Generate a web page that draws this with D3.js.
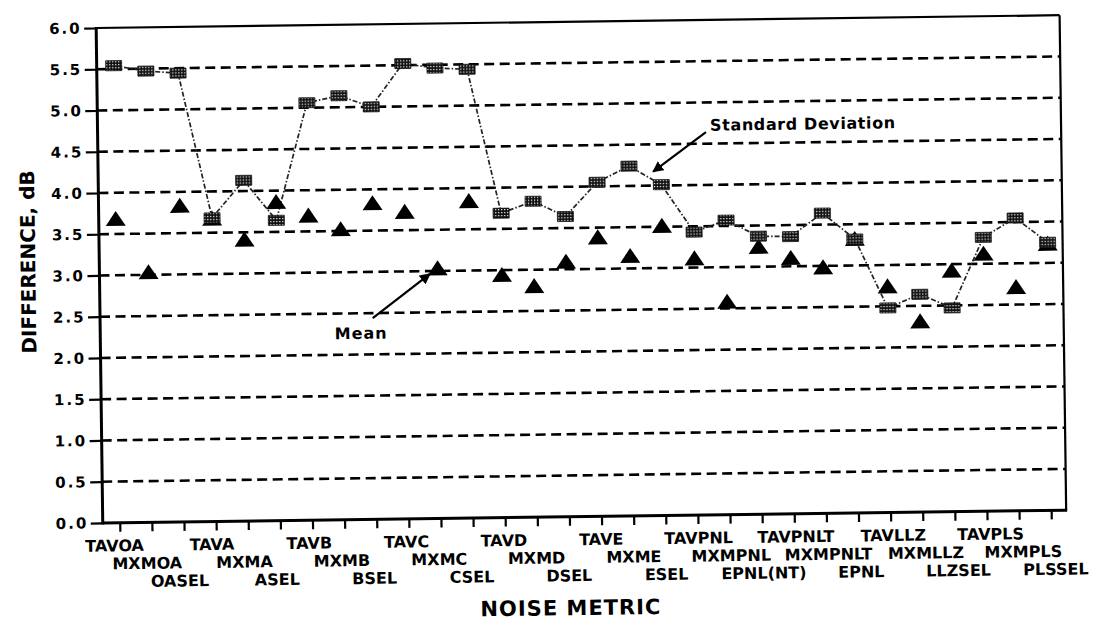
<!DOCTYPE html>
<html>
<head>
<meta charset="utf-8">
<script src="https://cdn.jsdelivr.net/npm/d3@7"></script>
<style>
  html, body { margin: 0; padding: 0; background: #fff; }
  svg { display: block; }
  text { font-family: "DejaVu Sans", "Liberation Sans", Arial, sans-serif; font-weight: bold; fill: #000; }
</style>
</head>
<body>
<svg id="chart" width="1099" height="625"></svg>
<script>
// ---------- data ----------
const categories = ["TAVOA","MXMOA","OASEL","TAVA","MXMA","ASEL","TAVB","MXMB","BSEL",
  "TAVC","MXMC","CSEL","TAVD","MXMD","DSEL","TAVE","MXME","ESEL",
  "TAVPNL","MXMPNL","EPNL(NT)","TAVPNLT","MXMPNLT","EPNL",
  "TAVLLZ","MXMLLZ","LLZSEL","TAVPLS","MXMPLS","PLSSEL"];
const stdDev = [5.54,5.47,5.44,3.68,4.13,3.64,5.06,5.14,5.00,
  5.52,5.46,5.44,3.69,3.83,3.64,4.05,4.24,4.01,
  3.43,3.57,3.37,3.36,3.64,3.32,
  2.48,2.64,2.47,3.32,3.55,3.25];
const meanVals = [3.67,3.02,3.82,3.66,3.40,3.85,3.68,3.51,3.82,
  3.71,3.02,3.83,2.93,2.79,3.08,3.37,3.14,3.50,
  3.10,2.57,3.23,3.09,2.97,3.31,
  2.73,2.30,2.91,3.11,2.70,3.22];
const yTicks = [0,0.5,1,1.5,2,2.5,3,3.5,4,4.5,5,5.5,6];
const gridTicks = [0.5,1,1.5,2,2.5,3,3.5,4,4.5,5,5.5];
const xTitle = "NOISE METRIC";
const yTitle = "DIFFERENCE, dB";
const stdLabel = "Standard Deviation";
const meanLabel = "Mean";

// ---------- layout ----------
const L = 99.5, R = 1063, T = 21.6, B = 516.6;
const svg = d3.select("#chart");
const root = svg.append("g").attr("transform", "rotate(-0.76, 580, 275)");

const x = d3.scalePoint().domain(categories).range([116.5, 1048]);
const xi = d3.scaleLinear().domain([0, categories.length - 1]).range(x.range());
const xLab = d3.scalePoint().domain(categories).range([110.5, 1051.5]);
const y = d3.scaleLinear().domain([0, 6]).range([B, T]);

// pattern for std-dev markers
const defs = svg.append("defs");
const pat = defs.append("pattern").attr("id", "hatch")
  .attr("patternUnits", "userSpaceOnUse").attr("width", 3).attr("height", 3);
pat.append("rect").attr("width", 3).attr("height", 3).attr("fill", "#111");
pat.append("rect").attr("x", 1).attr("y", 1).attr("width", 1.2).attr("height", 1.2).attr("fill", "#fff");
defs.append("marker").attr("id", "arrow").attr("viewBox", "0 0 10 10")
  .attr("refX", 9).attr("refY", 5).attr("markerWidth", 5).attr("markerHeight", 5)
  .attr("orient", "auto").attr("markerUnits", "strokeWidth")
  .append("path").attr("d", "M0,0 L10,5 L0,10 z").attr("fill", "#000");

// gridlines
root.append("g").selectAll("line").data(gridTicks).join("line")
  .attr("x1", L).attr("x2", R).attr("y1", d => y(d)).attr("y2", d => y(d))
  .attr("stroke", "#000").attr("stroke-width", 2.6).attr("stroke-dasharray", "10,5.5");

// frame
root.append("line").attr("x1", L).attr("x2", R).attr("y1", T).attr("y2", T)
  .attr("stroke", "#000").attr("stroke-width", 2.2);
root.append("line").attr("x1", R).attr("x2", R).attr("y1", T).attr("y2", B)
  .attr("stroke", "#000").attr("stroke-width", 2.2);

// y axis
const yAxis = root.append("g").attr("transform", `translate(${L},0)`)
  .call(d3.axisLeft(y).tickValues(yTicks).tickSize(12).tickPadding(2.5).tickFormat(d3.format(".1f")));
yAxis.select(".domain").remove();
yAxis.selectAll(".tick line").attr("stroke", "#000").attr("stroke-width", 2.2);
yAxis.selectAll(".tick text").attr("font-size", 15).attr("letter-spacing", 2)
  .style("font-family", "DejaVu Sans").style("font-weight", "bold").attr("fill", "#000");

// x axis
const xAxis = root.append("g").attr("transform", `translate(0,${B})`)
  .call(d3.axisBottom(x).tickSize(9).tickSizeOuter(0));
xAxis.select(".domain").remove();
xAxis.selectAll(".tick line").attr("stroke", "#000").attr("stroke-width", 2.2);
xAxis.selectAll(".tick text")
  .attr("x", d => xLab(d) - x(d))
  .attr("y", d => 28.5 + (categories.indexOf(d) % 3) * 18)
  .attr("dy", 0)
  .attr("font-size", 16)
  .style("font-family", "DejaVu Sans").style("font-weight", "bold").attr("fill", "#000");

// axis lines (thick)
root.append("line").attr("x1", L).attr("x2", L).attr("y1", T - 1).attr("y2", B + 1.5)
  .attr("stroke", "#000").attr("stroke-width", 3);
root.append("line").attr("x1", L).attr("x2", R + 1).attr("y1", B).attr("y2", B)
  .attr("stroke", "#000").attr("stroke-width", 3);

// std dev line
root.append("path").datum(stdDev)
  .attr("d", d3.line().x((d, i) => x(categories[i])).y(d => y(d)))
  .attr("fill", "none").attr("stroke", "#222").attr("stroke-width", 1.7)
  .attr("stroke-dasharray", "5,2,1.5,2");

// mean triangles
root.append("g").selectAll("path").data(meanVals).join("path")
  .attr("d", (d, i) => {
    const cx = x(categories[i]), cy = y(d);
    return `M${cx},${cy - 9} L${cx + 10},${cy + 6} L${cx - 10},${cy + 6} Z`;
  })
  .attr("fill", "#000");

// std dev markers
root.append("g").selectAll("rect").data(stdDev).join("rect")
  .attr("x", (d, i) => x(categories[i]) - 8)
  .attr("y", d => y(d) - 5)
  .attr("width", 16).attr("height", 10)
  .attr("fill", "url(#hatch)").attr("stroke", "#111").attr("stroke-width", 0.8);

// annotations
root.append("text").attr("x", xi(18.54)).attr("y", y(4.657))
  .attr("font-size", 16).attr("letter-spacing", 0.6).text(stdLabel);
root.append("line")
  .attr("x1", xi(18.41)).attr("y1", y(4.64)).attr("x2", xi(16.75)).attr("y2", y(4.17))
  .attr("stroke", "#000").attr("stroke-width", 2.2).attr("marker-end", "url(#arrow)");
root.append("text").attr("x", xi(6.77)).attr("y", y(2.19))
  .attr("font-size", 16).attr("letter-spacing", 1).text(meanLabel);
root.append("line")
  .attr("x1", xi(7.96)).attr("y1", y(2.44)).attr("x2", xi(9.76)).attr("y2", y(2.965))
  .attr("stroke", "#000").attr("stroke-width", 2.2).attr("marker-end", "url(#arrow)");

// axis titles
root.append("text").attr("x", 566.5).attr("y", 615)
  .attr("text-anchor", "middle").attr("font-size", 21).attr("letter-spacing", 1)
  .text(xTitle);
root.append("text").attr("transform", "translate(28.2,254.7) rotate(-90)")
  .attr("text-anchor", "middle").attr("dy", "0.36em").attr("font-size", 20)
  .text(yTitle);
</script>
</body>
</html>
